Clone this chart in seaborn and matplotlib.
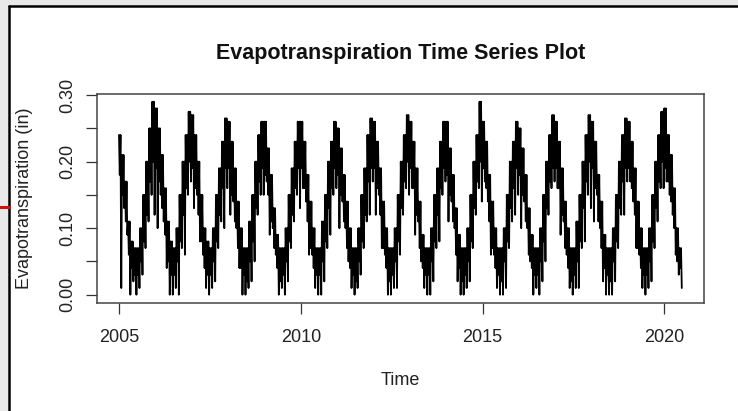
import numpy as np
import pandas as pd
import seaborn as sns
import matplotlib.pyplot as plt
from matplotlib.patches import Rectangle
from matplotlib.lines import Line2D

# monthly envelope of daily ET (Jan 2005 .. Jun 2020)
# upper edge of the dark band, lower edge of the band, deepest drop in the month
et_upper = [
    0.24, 0.21, 0.17, 0.11, 0.08, 0.07, 0.07, 0.10, 0.15, 0.20, 0.25, 0.29,  # 2005
    0.28, 0.25, 0.21, 0.16, 0.11, 0.08, 0.07, 0.10, 0.15, 0.20, 0.24, 0.275,  # 2006
    0.27, 0.24, 0.20, 0.15, 0.10, 0.08, 0.07, 0.10, 0.15, 0.19, 0.23, 0.265,  # 2007
    0.26, 0.23, 0.19, 0.14, 0.10, 0.07, 0.07, 0.11, 0.15, 0.20, 0.24, 0.26,  # 2008
    0.26, 0.22, 0.18, 0.13, 0.09, 0.07, 0.07, 0.10, 0.15, 0.19, 0.23, 0.26,  # 2009
    0.26, 0.23, 0.18, 0.14, 0.10, 0.07, 0.07, 0.11, 0.15, 0.20, 0.23, 0.26,  # 2010
    0.25, 0.22, 0.18, 0.14, 0.10, 0.07, 0.07, 0.10, 0.15, 0.19, 0.24, 0.265,  # 2011
    0.26, 0.23, 0.19, 0.14, 0.10, 0.07, 0.07, 0.10, 0.15, 0.20, 0.24, 0.27,  # 2012
    0.26, 0.23, 0.19, 0.14, 0.09, 0.07, 0.07, 0.10, 0.15, 0.19, 0.23, 0.26,  # 2013
    0.26, 0.22, 0.18, 0.13, 0.09, 0.07, 0.07, 0.10, 0.15, 0.20, 0.24, 0.29,  # 2014
    0.26, 0.23, 0.18, 0.14, 0.10, 0.07, 0.07, 0.10, 0.15, 0.20, 0.23, 0.26,  # 2015
    0.25, 0.22, 0.18, 0.13, 0.09, 0.07, 0.07, 0.10, 0.15, 0.20, 0.24, 0.27,  # 2016
    0.26, 0.23, 0.19, 0.14, 0.10, 0.07, 0.07, 0.11, 0.15, 0.20, 0.24, 0.27,  # 2017
    0.26, 0.23, 0.18, 0.14, 0.09, 0.07, 0.07, 0.10, 0.15, 0.20, 0.24, 0.265,  # 2018
    0.26, 0.23, 0.19, 0.14, 0.10, 0.07, 0.07, 0.10, 0.15, 0.20, 0.24, 0.275,  # 2019
    0.28, 0.24, 0.21, 0.16, 0.10, 0.07,                                      # 2020
]
et_lower = [
    0.18, 0.15, 0.11, 0.06, 0.04, 0.03, 0.03, 0.05, 0.08, 0.12, 0.17, 0.20,
    0.19, 0.17, 0.13, 0.09, 0.05, 0.03, 0.03, 0.05, 0.08, 0.12, 0.16, 0.20,
    0.19, 0.16, 0.12, 0.08, 0.04, 0.03, 0.03, 0.05, 0.08, 0.12, 0.16, 0.19,
    0.19, 0.15, 0.11, 0.07, 0.04, 0.03, 0.02, 0.05, 0.08, 0.13, 0.17, 0.19,
    0.18, 0.15, 0.11, 0.07, 0.04, 0.02, 0.03, 0.05, 0.08, 0.12, 0.16, 0.19,
    0.19, 0.16, 0.11, 0.07, 0.04, 0.03, 0.03, 0.05, 0.08, 0.13, 0.16, 0.19,
    0.18, 0.15, 0.11, 0.07, 0.04, 0.03, 0.02, 0.05, 0.08, 0.12, 0.17, 0.19,
    0.19, 0.16, 0.12, 0.07, 0.04, 0.02, 0.03, 0.05, 0.08, 0.13, 0.17, 0.20,
    0.19, 0.16, 0.12, 0.07, 0.04, 0.03, 0.03, 0.05, 0.08, 0.12, 0.16, 0.19,
    0.18, 0.15, 0.11, 0.06, 0.04, 0.02, 0.03, 0.05, 0.08, 0.13, 0.17, 0.20,
    0.19, 0.16, 0.11, 0.07, 0.04, 0.03, 0.02, 0.05, 0.08, 0.13, 0.16, 0.19,
    0.18, 0.15, 0.11, 0.06, 0.04, 0.03, 0.03, 0.05, 0.08, 0.13, 0.17, 0.19,
    0.19, 0.16, 0.12, 0.07, 0.04, 0.02, 0.03, 0.05, 0.08, 0.13, 0.17, 0.20,
    0.19, 0.16, 0.11, 0.07, 0.04, 0.03, 0.02, 0.05, 0.08, 0.13, 0.17, 0.19,
    0.19, 0.16, 0.12, 0.07, 0.04, 0.03, 0.03, 0.05, 0.08, 0.13, 0.17, 0.20,
    0.19, 0.17, 0.14, 0.10, 0.05, 0.04,
]
et_dip = [
    0.01, 0.13, 0.09, 0.00, 0.02, 0.00, 0.01, 0.03, 0.07, 0.11, 0.15, 0.12,
    0.10, 0.15, 0.11, 0.04, 0.00, 0.00, 0.01, 0.00, 0.07, 0.06, 0.15, 0.17,
    0.13, 0.15, 0.08, 0.06, 0.01, 0.00, 0.01, 0.02, 0.07, 0.11, 0.10, 0.16,
    0.12, 0.14, 0.10, 0.04, 0.00, 0.00, 0.01, 0.02, 0.05, 0.12, 0.15, 0.15,
    0.17, 0.09, 0.10, 0.06, 0.00, 0.01, 0.00, 0.02, 0.07, 0.11, 0.15, 0.13,
    0.16, 0.14, 0.06, 0.06, 0.01, 0.00, 0.00, 0.02, 0.07, 0.09, 0.15, 0.16,
    0.10, 0.14, 0.10, 0.05, 0.01, 0.00, 0.01, 0.03, 0.07, 0.11, 0.12, 0.17,
    0.12, 0.15, 0.07, 0.06, 0.00, 0.00, 0.01, 0.01, 0.06, 0.12, 0.16, 0.15,
    0.16, 0.09, 0.11, 0.05, 0.01, 0.00, 0.00, 0.02, 0.07, 0.08, 0.15, 0.17,
    0.11, 0.14, 0.10, 0.02, 0.00, 0.00, 0.01, 0.02, 0.07, 0.12, 0.16, 0.14,
    0.17, 0.14, 0.06, 0.06, 0.01, 0.00, 0.00, 0.01, 0.07, 0.11, 0.12, 0.15,
    0.10, 0.14, 0.10, 0.05, 0.00, 0.01, 0.00, 0.02, 0.05, 0.12, 0.16, 0.17,
    0.16, 0.09, 0.11, 0.06, 0.01, 0.00, 0.01, 0.01, 0.07, 0.08, 0.15, 0.13,
    0.11, 0.15, 0.10, 0.02, 0.00, 0.00, 0.00, 0.02, 0.07, 0.12, 0.12, 0.17,
    0.17, 0.14, 0.07, 0.06, 0.01, 0.00, 0.01, 0.02, 0.07, 0.11, 0.16, 0.16,
    0.17, 0.15, 0.12, 0.06, 0.03, 0.01,
]
start_year = 2005
y_ticks = [0.00, 0.05, 0.10, 0.15, 0.20, 0.25, 0.30]
y_ticklabels = ['0.00', '', '0.10', '', '0.20', '', '0.30']
x_ticks = [2005, 2010, 2015, 2020]

# four readings per month: top, band bottom, top, drop
n = len(et_upper)
month_t = start_year + np.arange(n) / 12
t = np.repeat(month_t, 4) + np.tile([0, 0.25, 0.5, 0.75], n) / 12
v = np.column_stack([et_upper, et_lower, et_upper, et_dip]).ravel()
df = pd.DataFrame({'Time': t, 'ET': v})

sns.set_theme(style='ticks')
plt.rcParams['font.family'] = ['Liberation Sans', 'DejaVu Sans']

fig = plt.figure(figsize=(7.38, 4.11), dpi=100)
fig.patch.set_facecolor('#e9e9e9')
# screenshot frame: white page with a black edge on the left and top
fx, fy = 9 / 738, 1 - 6 / 411
fig.add_artist(Rectangle((fx, 0), 1 - fx, fy, transform=fig.transFigure,
                         facecolor='white', edgecolor='none', zorder=0))
fig.add_artist(Line2D([fx, 1], [fy, fy], transform=fig.transFigure, color='black', linewidth=1.8))
fig.add_artist(Line2D([fx, fx], [0, fy], transform=fig.transFigure, color='black', linewidth=1.8))
fig.add_artist(Line2D([0, fx], [1 - 207 / 411] * 2, transform=fig.transFigure,
                      color='#d01010', linewidth=2.2))

ax = fig.add_axes([97 / 738, 1 - 303 / 411, 607 / 738, 209.3 / 411])
sns.lineplot(data=df, x='Time', y='ET', estimator=None, color='black', linewidth=1.3, ax=ax)

ax.set_xlim(2004.395, 2021.09)
ax.set_ylim(-0.0125, 0.302)
ax.set_xticks(x_ticks)
ax.set_yticks(y_ticks)
ax.set_yticklabels(y_ticklabels, rotation=90, va='center')
ax.tick_params(axis='both', labelsize=13, length=8, width=0.9, color='#333333', labelcolor='#222222')
ax.tick_params(axis='x', pad=11)
ax.tick_params(axis='y', pad=7)
for s in ax.spines.values():
    s.set_color('#444444')
    s.set_linewidth(1.1)

ax.set_title('Evapotranspiration Time Series Plot', fontsize=15.5, fontweight='bold', pad=25, color='#111111')
ax.set_xlabel('Time', fontsize=13, color='#222222')
ax.set_ylabel('Evapotranspiration (in)', fontsize=13, color='#222222')
ax.xaxis.set_label_coords(0.5, -0.33)
ax.yaxis.set_label_coords(-0.105, 0.5)

fig.savefig('out.png', dpi=100, facecolor=fig.get_facecolor())
